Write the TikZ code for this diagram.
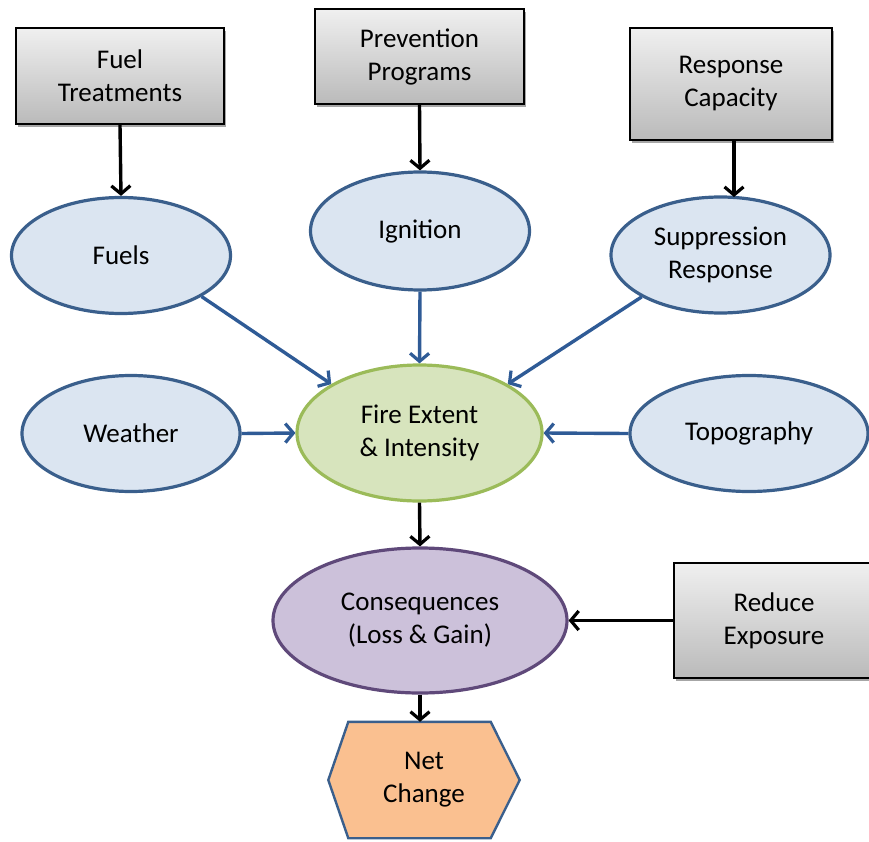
\documentclass[tikz,border=0pt]{standalone}
\usepackage{fontspec}
\setmainfont{Carlito}
\usetikzlibrary{shapes.geometric,arrows.meta,shadows,calc}
\definecolor{elfill}{HTML}{DBE5F1}
\definecolor{eldraw}{HTML}{3A5F8C}
\definecolor{arblue}{HTML}{2F5B96}
\definecolor{firefill}{HTML}{D7E4BD}
\definecolor{firedraw}{HTML}{9BBB59}
\definecolor{consfill}{HTML}{CCC1DA}
\definecolor{consdraw}{HTML}{5F497A}
\definecolor{netfill}{HTML}{FAC090}
\definecolor{netdraw}{HTML}{3A5F8C}
\begin{document}
\begin{tikzpicture}[x=1pt,y=-1pt,
  every node/.style={font=\fontsize{27}{33}\selectfont, align=center, text=black},
  graybox/.style={rectangle, draw=black, line width=2pt, top color=white!94!black, bottom color=black!27,
     drop shadow={shadow xshift=2pt, shadow yshift=-3pt, opacity=0.35, fill=black}},
  oval/.style={ellipse, inner sep=0pt, line width=3.2pt},
  blueoval/.style={oval, fill=elfill, draw=eldraw, minimum width=219pt, minimum height=116pt},
  blkarrow/.style={line width=3.4pt, black, -{Straight Barb[length=8pt,width=19pt,line width=3.2pt]}},
  bluarrow/.style={line width=3.4pt, arblue, -{Straight Barb[length=8pt,width=19pt,line width=3.2pt]}}
]
\useasboundingbox (0,0) rectangle (869,842);

% boxes
\node[graybox, minimum width=208pt, minimum height=96pt] (ft) at (120,76) {Fuel\\Treatments};
\node[graybox, minimum width=209pt, minimum height=95pt] (pp) at (419.5,56.5) {Prevention\\Programs};
\node[graybox, minimum width=202pt, minimum height=112pt] (rc) at (731,84) {Response\\Capacity};
\node[graybox, minimum width=200pt, minimum height=115pt] (re) at (774,620.5) {Reduce\\Exposure};

% ovals
\node[blueoval] (fuels) at (121,255.5) {Fuels};
\node[blueoval, minimum height=118pt] (ign) at (420,231) {Ignition};
\node[blueoval] (sup) at (720.5,255) {Suppression\\Response};
\node[blueoval, minimum width=218pt] (wea) at (131,433.5) {Weather};
\node[blueoval, minimum width=238pt] (topo) at (749,433.5) {Topography};
\node[oval, fill=firefill, draw=firedraw, minimum width=245pt, minimum height=136pt] (fire) at (419.5,433) {Fire Extent\\\& Intensity};
\node[oval, fill=consfill, draw=consdraw, minimum width=294pt, minimum height=145pt] (cons) at (420,620.5) {Consequences\\(Loss \& Gain)};

% net change hexagon
\node[minimum width=191pt, minimum height=116pt, inner sep=0pt] (net) at (424,780) {};
\filldraw[fill=netfill, draw=netdraw, line width=2.4pt]
  ($(net.north west)+(20,0)$) -- ($(net.north east)+(-29,0)$) -- (net.east)
  -- ($(net.south east)+(-29,0)$) -- ($(net.south west)+(20,0)$) -- (net.west) -- cycle;
\node at (net.center) {Net\\Change};

% black connectors
\draw[blkarrow] (ft.south) -- (fuels.north);
\draw[blkarrow] (pp.south) -- (ign.north);
\draw[blkarrow] (rc.south -| 734,0) -- (734,197);
\draw[blkarrow] (fire.south) -- (cons.north);
\draw[blkarrow] (re.west) -- (cons.east);
\draw[blkarrow] (cons.south) -- (net.north -| cons.south);

% blue connectors
\draw[bluarrow] (fuels.-27) -- (fire.151);
\draw[bluarrow] (ign.south) -- (fire.north);
\draw[bluarrow] (sup.208.5) -- (fire.29);
\draw[bluarrow] (wea.east) -- (fire.west);
\draw[bluarrow] (topo.west) -- (fire.east);
\end{tikzpicture}
\end{document}
